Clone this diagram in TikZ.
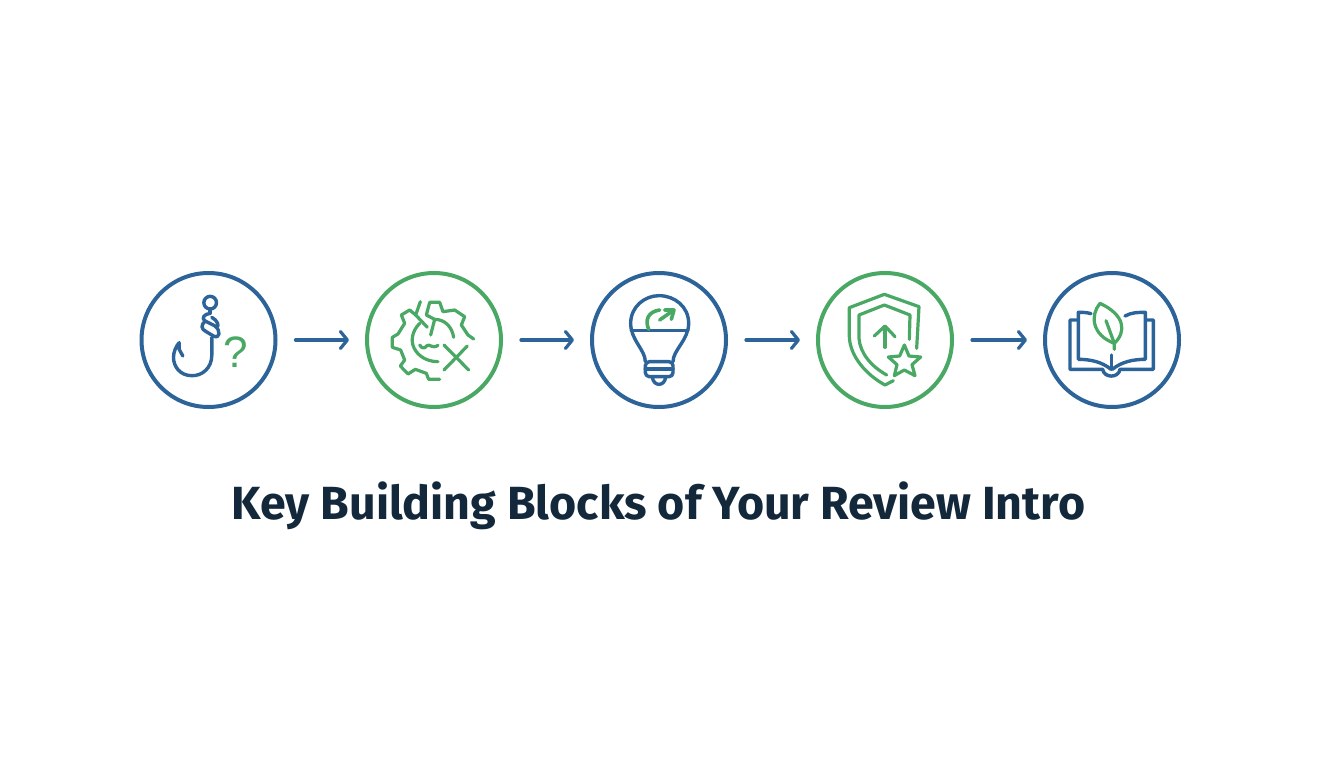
\documentclass[tikz,border=0pt]{standalone}
\usepackage{fontspec}
\setmainfont{Noto Sans}
\newfontfamily\titlefont{Fira Sans}
\newfontfamily\qfont{Liberation Sans}
\usetikzlibrary{arrows.meta,calc}
\definecolor{bluec}{HTML}{2C6399}
\definecolor{greenc}{HTML}{49A863}
\definecolor{navy}{HTML}{14283C}
\tikzset{
 x=1pt,y=-1pt,
 ring/.style={circle,draw=#1,line width=4pt,minimum size=134pt,inner sep=0pt,fill=white},
 flow/.style={draw=bluec,line width=3.2pt,line cap=round,-{Straight Barb[length=7pt,width=17pt,line width=3.2pt,round]},shorten <=18pt,shorten >=16pt},
 ib/.style={draw=bluec,line width=3.4pt,line cap=round,line join=round},
 ig/.style={draw=greenc,line width=3.2pt,line cap=round,line join=round},
 local/.style={shift={(#1)},scale=0.33333}
}
\begin{document}
\begin{tikzpicture}
\useasboundingbox (0,0) rectangle (1344,768);
\fill[white] (0,0) rectangle (1344,768);
\node[ring=bluec]  (c1) at (208.5,340) {};
\node[ring=greenc] (c2) at (434,340) {};
\node[ring=bluec]  (c3) at (659,340) {};
\node[ring=greenc] (c4) at (885,340) {};
\node[ring=bluec]  (c5) at (1112,340) {};
\draw[flow] (c1) -- (c2);
\draw[flow] (c2) -- (c3);
\draw[flow] (c3) -- (c4);
\draw[flow] (c4) -- (c5);
% hook
\begin{scope}[local={208.5,340},shift={(-235,-240)}]
 \draw[ib] (240,128) circle (19);
 \draw[ib] (240,148) -- (240,160);
 \draw[ib] (240,160) .. controls (222,162) and (212,175) .. (225,183) -- (255,198) .. controls (272,205) and (262,180) .. (245,172);
 \draw[ib] (225,183) .. controls (212,195) and (212,207) .. (228,215) -- (250,228) .. controls (270,238) and (272,212) .. (255,198);
 \draw[ib] (245,232) -- (245,285) .. controls (245,325) and (215,348) .. (185,347) .. controls (150,347) and (130,320) .. (130,292) .. controls (130,275) and (138,258) .. (147,248) -- (147,268) -- (158,288);
 \node[text=greenc,font=\fontsize{44}{44}\qfont] (q) at (316,277) {?};
\end{scope}
% gear
\begin{scope}[local={434,340},shift={(-238,-240)}]
 \draw[ig] (197,125) -- (183,165) -- (218,202);
 \draw[ig] (183,165) -- (165,150) -- (140,165) -- (150,190) -- (130,222) -- (113,232) -- (113,262) -- (138,270) -- (150,300) -- (137,318) -- (160,342) -- (182,328) -- (215,340) -- (222,358) -- (255,358);
 \draw[ig] (228,225) -- (240,178) -- (215,165) -- (225,127) -- (255,127) -- (265,155) -- (300,150) -- (330,170) -- (320,195) -- (340,225) -- (357,237);
 \draw[ig] (240,178) .. controls (270,178) and (292,200) .. (297,232);
 \draw[ig] (195,190) .. controls (170,215) and (165,250) .. (185,275) .. controls (200,295) and (225,305) .. (250,305);
 \draw[ig] (195,255) .. controls (203,268) and (210,265) .. (217,257) .. controls (225,250) and (232,268) .. (250,256);
 \draw[ig] (268,255) -- (342,330);
 \draw[ig] (338,258) -- (268,330);
\end{scope}
% bulb
\begin{scope}[local={659,340},shift={(-238,-240)}]
 \draw[ib] (197,305) .. controls (197,270) and (153,240) .. (153,190) .. controls (153,140) and (195,107) .. (238,107) .. controls (285,107) and (327,140) .. (327,190) .. controls (327,240) and (280,270) .. (280,305);
 \draw[ib] (155,212) -- (325,212);
 \draw[ib,rounded corners=4pt] (197,305) rectangle (280,350);
 \draw[ib] (197,327) -- (280,327);
 \draw[ib] (218,352) .. controls (222,380) and (254,380) .. (258,352);
 \draw[ig,line width=3.6pt] (207,208) .. controls (195,180) and (205,155) .. (240,150);
 \draw[ig,line width=3.6pt] (240,180) -- (280,152);
 \draw[ig,line width=3.6pt] (255,150) -- (283,150) -- (275,178);
\end{scope}
% shield
\begin{scope}[local={885,340},shift={(-240,-240)}]
 \draw[ig] (335,265) -- (342,140) -- (238,103) -- (133,143) -- (133,230) .. controls (135,290) and (185,345) .. (240,375) -- (265,362);
 \draw[ig] (313,238) -- (315,165) -- (238,135) -- (162,165) -- (162,235) .. controls (165,280) and (200,320) .. (245,345);
 \draw[ig] (240,262) -- (240,200);
 \draw[ig] (208,228) -- (240,198) -- (270,230);
 \draw[ig] (298,255) -- (312,288) -- (347,291) -- (321,314) -- (330,347) -- (298,330) -- (268,347) -- (276,314) -- (250,291) -- (284,288) -- cycle;
\end{scope}
% book
\begin{scope}[local={1112,340},shift={(-246,-240)}]
 \draw[ib] (145,180) -- (120,180) -- (120,328) -- (218,328) .. controls (222,355) and (266,355) .. (270,328) -- (370,328) -- (370,180) -- (350,180);
 \draw[ib] (183,161) .. controls (170,157) and (158,157) .. (145,157) -- (145,298) .. controls (180,298) and (215,305) .. (243,328);
 \draw[ib] (285,168) .. controls (305,157) and (325,157) .. (346,157) -- (346,298) .. controls (310,298) and (275,305) .. (247,328);
 \draw[ib] (245,285) -- (245,328);
 \draw[ig] (210,130) .. controls (180,165) and (185,225) .. (253,250) .. controls (290,215) and (285,165) .. (210,130) -- cycle;
 \draw[ig] (228,182) -- (253,250) -- (253,268);
\end{scope}
\node[text=navy,font=\fontsize{46.5}{46.5}\titlefont\bfseries,inner sep=0pt,anchor=base] (title) at (658.5,519) {Key Building Blocks of Your Review Intro};
\end{tikzpicture}
\end{document}
